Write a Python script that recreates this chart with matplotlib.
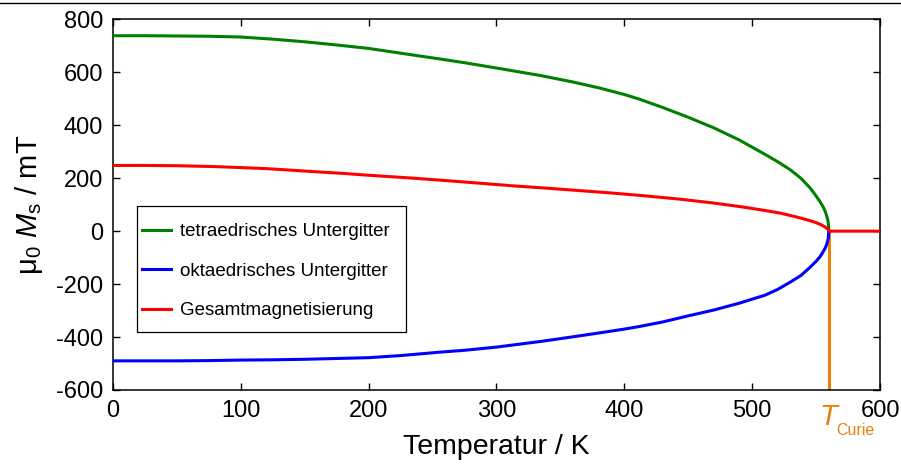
import matplotlib
matplotlib.use('Agg')
import matplotlib.pyplot as plt
from matplotlib.lines import Line2D
from matplotlib.patches import Rectangle

plt.rcParams['font.family'] = ['Liberation Sans', 'DejaVu Sans']
plt.rcParams['mathtext.fontset'] = 'custom'
plt.rcParams['mathtext.rm'] = 'Liberation Sans'
plt.rcParams['mathtext.it'] = 'Liberation Sans:italic'
plt.rcParams['axes.unicode_minus'] = False

# sublattice magnetisation vs. temperature (mT)
t_tet = [0, 25, 50, 75, 100, 125, 150, 175, 200, 225, 256, 275, 300, 334, 360, 381, 400, 412,
         430, 450, 470, 490, 510, 520, 530, 538, 545, 550, 553, 555, 557, 558, 559, 559.5, 560]
m_tet = [738, 738, 737, 736, 733, 725, 715, 703, 690, 672, 650, 636, 616, 588, 563, 540, 516, 498,
         467, 430, 390, 344, 290, 262, 231, 200, 165, 133, 112, 96, 76, 62, 45, 32, 0]

t_okt = [0, 25, 50, 75, 100, 125, 150, 175, 200, 225, 256, 275, 300, 334, 360, 381, 400, 412,
         430, 450, 470, 490, 510, 520, 530, 538, 545, 550, 553, 555, 557, 558, 559, 559.5, 560]
m_okt = [-490, -490, -490, -489, -487, -486, -484, -481, -478, -470, -457, -450, -438, -417, -399, -384,
         -370, -360, -343, -320, -298, -272, -242, -220, -192, -168, -138, -114, -97, -82, -65, -54, -38, -27, 0]

t_ges = [0, 25, 50, 78, 100, 120, 140, 156, 180, 200, 235, 260, 287, 313, 340, 365, 390, 412,
         443, 470, 490, 510, 522, 535, 545, 550, 554, 557, 559, 560, 600]
m_ges = [248, 248, 247, 244, 240, 236, 230, 225, 218, 211, 200, 191, 181, 171, 162, 153, 144, 135,
         121, 106, 93, 78, 68, 53, 40, 32, 24, 16, 8, 0, 0]

t_curie = 560

x_ticks = [0, 100, 200, 300, 400, 500, 600]
y_ticks = [-600, -400, -200, 0, 200, 400, 600, 800]

fig = plt.figure(figsize=(9.01, 4.65), dpi=100)
ax = fig.add_axes([0.1254, 0.1613, 0.8513, 0.7972])

orange = '#e8820c'
ax.plot([t_curie, t_curie], [0, -600], color=orange, lw=2.2, zorder=2)
ax.plot(t_tet, m_tet, color='green', lw=2.2, zorder=3)
ax.plot(t_okt, m_okt, color='blue', lw=2.2, zorder=3)
ax.plot(t_ges, m_ges, color='red', lw=2.2, zorder=4)

ax.set_xlim(0, 600)
ax.set_ylim(-600, 800)
ax.set_xticks(x_ticks)
ax.set_yticks(y_ticks)
ax.tick_params(direction='in', length=5, width=1, top=True, right=True,
               labelsize=17, pad=7)
for s in ax.spines.values():
    s.set_linewidth(1.1)

ax.set_xlabel('Temperatur / K', fontsize=20.5, labelpad=9)
ax.set_ylabel(r'μ$_0$ $M_\mathrm{s}$ / mT', fontsize=21, labelpad=8)

# Curie temperature marker label under the axis
ax.text(552, -0.035, r'$T$', color=orange, fontsize=21,
        ha='left', va='top', transform=ax.get_xaxis_transform())
ax.text(566, -0.088, 'Curie', color=orange, fontsize=11.5,
        ha='left', va='top', transform=ax.get_xaxis_transform())

handles = [Line2D([], [], color='green', lw=2.2),
           Line2D([], [], color='blue', lw=2.2),
           Line2D([], [], color='red', lw=2.2)]
labels = ['tetraedrisches Untergitter', 'oktaedrisches Untergitter', 'Gesamtmagnetisierung']
leg = ax.legend(handles, labels, loc='upper left', bbox_to_anchor=(0.031, 0.465),
                borderaxespad=0, fontsize=13.5, handlelength=1.55, labelspacing=1.19,
                handletextpad=0.45, borderpad=0.3, frameon=False)
# legend frame
ax.add_patch(Rectangle((0.0313, 0.1565), 0.3507, 0.34, transform=ax.transAxes,
                       fill=True, facecolor='white', edgecolor='black', lw=0.9, zorder=4.5))
leg.set_zorder(5)

# thin rule across the top of the figure
fig.add_artist(Line2D([0, 1], [0.993, 0.993], color='black', lw=1, transform=fig.transFigure))

fig.savefig('out.png', dpi=100)
